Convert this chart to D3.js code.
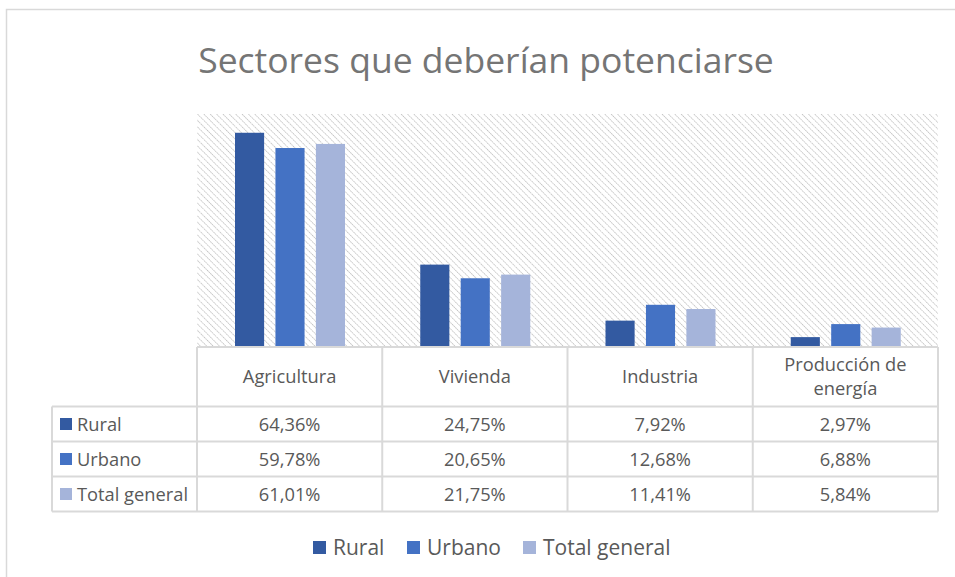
<!DOCTYPE html>
<html>
<head>
<meta charset="utf-8">
<script src="https://cdn.jsdelivr.net/npm/d3@7"></script>
<style>
  body { margin: 0; background: #fff; }
  text { font-family: "Open Sans", "Noto Sans", sans-serif; fill: #595959; }
</style>
</head>
<body>
<div id="chart"></div>
<script>
// data
var categories = ["Agricultura", "Vivienda", "Industria", "Producción de energía"];
var categoryLines = [["Agricultura"], ["Vivienda"], ["Industria"], ["Producción de", "energía"]];
var series = ["Rural", "Urbano", "Total general"];
var rural = [64.36, 24.75, 7.92, 2.97];
var urbano = [59.78, 20.65, 12.68, 6.88];
var totalGeneral = [61.01, 21.75, 11.41, 5.84];
var colors = ["#335aa1", "#4472c4", "#a5b4da"];
var values = [rural, urbano, totalGeneral];

var W = 955, H = 577;
var plot = {left: 197, right: 938, top: 114, bottom: 347};

var svg = d3.select("#chart").append("svg")
    .attr("width", W).attr("height", H);

// hatch pattern for plot area
var defs = svg.append("defs");
var pat = defs.append("pattern")
    .attr("id", "hatch")
    .attr("patternUnits", "userSpaceOnUse")
    .attr("width", 4.5).attr("height", 4.5)
    .attr("patternTransform", "rotate(-45)");
pat.append("line")
    .attr("x1", 0).attr("y1", 0).attr("x2", 0).attr("y2", 4.5)
    .attr("stroke", "#bdbdbd").attr("stroke-width", 1.6)
    .attr("stroke-dasharray", "1.5 0.75");

// chart border
svg.append("path")
    .attr("d", "M" + (W + 2) + ",9.5 H6.5 V" + (H + 2))
    .attr("fill", "none").attr("stroke", "#d9d9d9").attr("stroke-width", 1.5);

// title
svg.append("text")
    .attr("x", 486).attr("y", 73)
    .attr("text-anchor", "middle")
    .style("font-size", "35.5px")
    .style("fill", "#757575")
    .text("Sectores que deberían potenciarse");

svg.append("rect")
    .attr("x", plot.left).attr("y", plot.top)
    .attr("width", plot.right - plot.left).attr("height", plot.bottom - plot.top)
    .attr("fill", "url(#hatch)");

var x0 = d3.scaleBand().domain(categories).range([plot.left, plot.right]).paddingInner(0).paddingOuter(0);
var x1 = d3.scaleBand().domain(series).range([38, 148]).paddingInner(0.28).paddingOuter(0);
var y = d3.scaleLinear().domain([0, 70]).range([plot.bottom, plot.top]);

// bars
series.forEach(function(s, si) {
  svg.append("g").selectAll("rect")
    .data(values[si])
    .join("rect")
    .attr("x", function(d, i) { return x0(categories[i]) + x1(s); })
    .attr("y", function(d) { return y(d); })
    .attr("width", x1.bandwidth())
    .attr("height", function(d) { return y(0) - y(d); })
    .attr("fill", colors[si]);
});

// data table
var tableLeft = 52;
var rowY = [347, 406.5, 441.5, 476.5, 511.5];
var grid = svg.append("g").attr("stroke", "#d9d9d9").attr("stroke-width", 2).attr("fill", "none");
// horizontal lines
grid.append("line").attr("x1", plot.left).attr("x2", plot.right).attr("y1", rowY[0]).attr("y2", rowY[0]);
rowY.slice(1).forEach(function(yy) {
  grid.append("line").attr("x1", tableLeft).attr("x2", plot.right).attr("y1", yy).attr("y2", yy);
});
// vertical lines
grid.append("line").attr("x1", tableLeft).attr("x2", tableLeft).attr("y1", rowY[1]).attr("y2", rowY[4]);
categories.forEach(function(c) {
  grid.append("line").attr("x1", x0(c)).attr("x2", x0(c)).attr("y1", rowY[0]).attr("y2", rowY[4]);
});
grid.append("line").attr("x1", plot.right).attr("x2", plot.right).attr("y1", rowY[0]).attr("y2", rowY[4]);

var fs = "18.3px";

// header labels
categories.forEach(function(c, i) {
  var lines = categoryLines[i];
  var cy = (rowY[0] + rowY[1]) / 2;
  var lh = 24;
  lines.forEach(function(l, li) {
    svg.append("text")
      .attr("x", x0(c) + x0.bandwidth() / 2)
      .attr("y", cy + (li - (lines.length - 1) / 2) * lh + 6)
      .attr("text-anchor", "middle")
      .style("font-size", fs)
      .text(l);
  });
});

var fmt = function(v) { return v.toFixed(2).replace(".", ",") + "%"; };

// rows
series.forEach(function(s, si) {
  var cy = (rowY[si + 1] + rowY[si + 2]) / 2;
  svg.append("rect")
    .attr("x", 60).attr("y", cy - 6).attr("width", 12).attr("height", 12)
    .attr("fill", colors[si]);
  svg.append("text")
    .attr("x", 77).attr("y", cy + 6.5)
    .style("font-size", fs)
    .text(s);
  values[si].forEach(function(v, i) {
    svg.append("text")
      .attr("x", x0(categories[i]) + x0.bandwidth() / 2)
      .attr("y", cy + 6.5)
      .attr("text-anchor", "middle")
      .style("font-size", fs)
      .text(fmt(v));
  });
});

// legend
var legendX = [313, 407, 523];
var legend = svg.append("g");
series.forEach(function(s, si) {
  legend.append("rect")
    .attr("x", legendX[si]).attr("y", 541).attr("width", 13).attr("height", 13)
    .attr("fill", colors[si]);
  legend.append("text")
    .attr("x", legendX[si] + 20).attr("y", 555)
    .style("font-size", "21px")
    .text(s);
});
</script>
</body>
</html>
